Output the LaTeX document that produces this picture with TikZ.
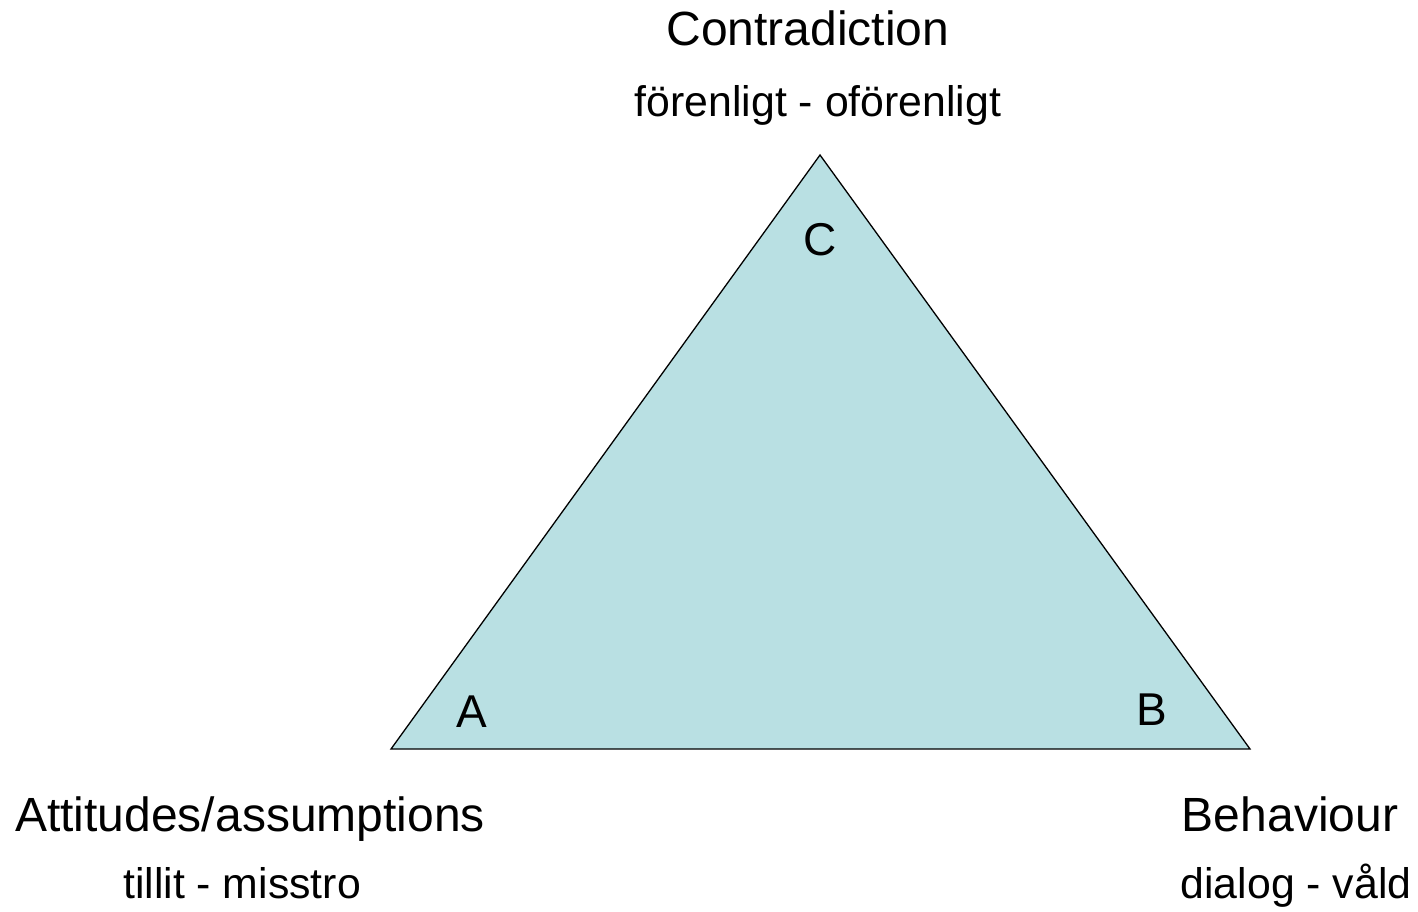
\documentclass[tikz,border=0pt]{standalone}
\usepackage{fontspec}
\setmainfont{Liberation Sans}
\usetikzlibrary{positioning}
\definecolor{TriFill}{HTML}{B9E0E3}

\begin{document}
\begin{tikzpicture}[x=1pt,y=-1pt,
      tri/.style={draw=black,fill=TriFill,line width=1.3pt,line join=miter},
      head/.style={anchor=base,inner sep=0pt,font=\fontsize{48}{57}\selectfont},
      sub/.style={anchor=base,inner sep=0pt,font=\fontsize{42.8}{51}\selectfont},
      corner/.style={anchor=base,inner sep=0pt,font=\fontsize{46}{55}\selectfont}]
    \useasboundingbox (0,0) rectangle (1418,912);
    \coordinate (top)   at (820,155);
    \coordinate (left)  at (391,749);
    \coordinate (right) at (1250,749);
    \draw[tri] (top) -- (left) -- (right) -- cycle;
    \node[corner] (cornerC) at (820,255) {C};
    \node[corner] (cornerA) at (472,727) {A};
    \node[corner] (cornerB) at (1152,725) {B};
    \node[head] (contra)    at (808,46)   {Contradiction};
    \node[sub]  (contraSub) at (818,117)  {förenligt - oförenligt};
    \node[head] (att)       at (250,831)  {Attitudes/assumptions};
    \node[sub]  (attSub)    at (242,898)  {tillit - misstro};
    \node[head] (beh)       at (1290,831) {Behaviour};
    \node[sub]  (behSub)    at (1296,898) {dialog - våld};
  \end{tikzpicture}
\end{document}
